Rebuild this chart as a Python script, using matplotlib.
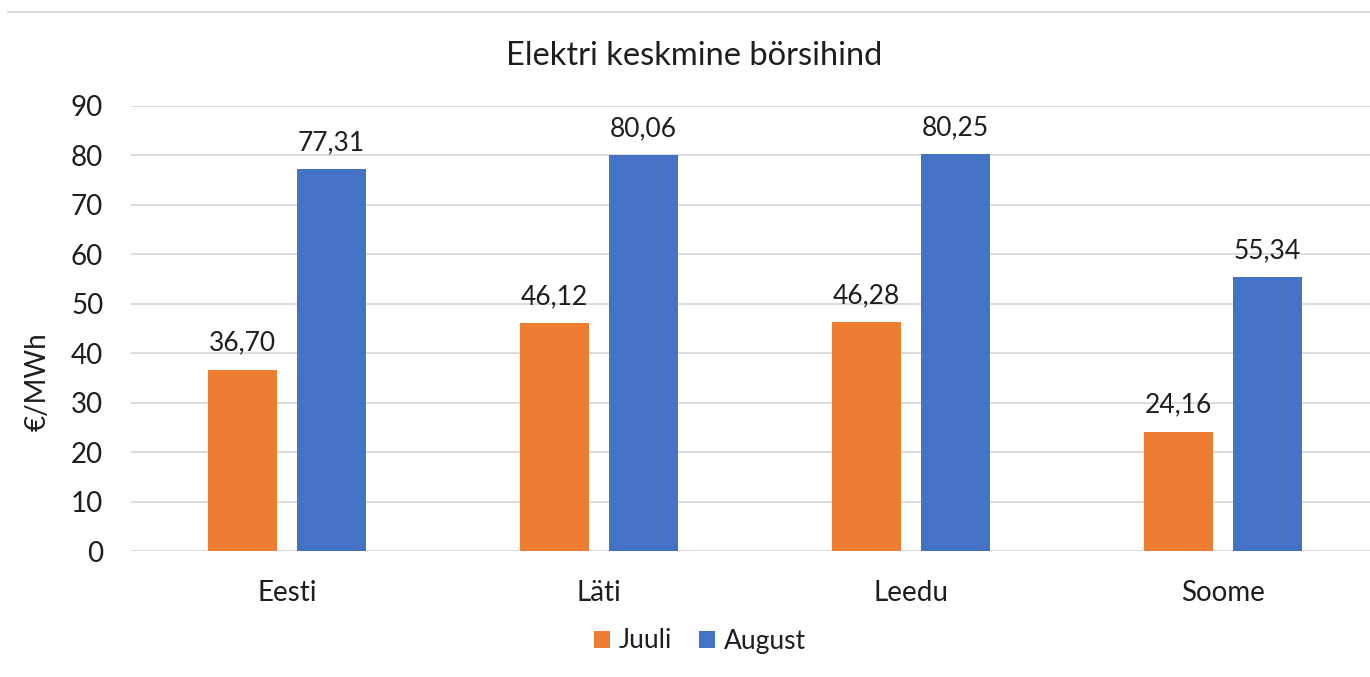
import numpy as np
import matplotlib.pyplot as plt
from matplotlib.lines import Line2D

plt.rcParams['font.family'] = ['Lato', 'DejaVu Sans']

countries = ['Eesti', 'Läti', 'Leedu', 'Soome']
juuli = [36.70, 46.12, 46.28, 24.16]
august = [77.31, 80.06, 80.25, 55.34]
series_names = ['Juuli', 'August']
colors = ['#ED7D31', '#4472C4']
txt = '#1e1e1e'

fig = plt.figure(figsize=(13.7, 6.77), dpi=100)
ax = fig.add_axes([131 / 1370, 1 - 551 / 677, 1248 / 1370, 445 / 677])

x = np.arange(len(countries))
width = 0.224
offset = 0.1425

for vals, name, col, off in zip([juuli, august], series_names, colors, [-offset, offset]):
    bars = ax.bar(x + off, vals, width, color=col, label=name, zorder=3)
    for b, v in zip(bars, vals):
        ax.annotate(f'{v:.2f}'.replace('.', ','),
                    (b.get_x() + b.get_width() / 2, v),
                    xytext=(0, 13.5), textcoords='offset points',
                    ha='center', va='baseline', fontsize=19, color=txt)

ax.set_xlim(-0.5, len(countries) - 0.5)
ax.set_ylim(0, 90)
ax.set_yticks(range(0, 91, 10))
ax.set_xticks(x)
ax.set_xticklabels(countries)
ax.grid(axis='y', color='#d9d9d9', linewidth=1.3, zorder=0)
ax.set_axisbelow(True)
for s in ax.spines.values():
    s.set_visible(False)
ax.tick_params(axis='both', length=0, labelsize=20, colors=txt)
ax.tick_params(axis='y', pad=20)
ax.tick_params(axis='x', pad=21)

ax.set_ylabel('€/MWh', fontsize=20, color=txt)
ax.yaxis.set_label_coords(-80 / 1248, (551 - 382) / 445)

fig.text(694 / 1370, 1 - 56 / 677, 'Elektri keskmine börsihind',
         ha='center', va='center', fontsize=23.5, color=txt)

fig.legend(loc='center', bbox_to_anchor=(700 / 1370, 1 - 641 / 677), ncol=2,
           frameon=False, fontsize=19, handlelength=0.6, handleheight=0.6,
           handletextpad=0.35, columnspacing=1.0, labelcolor=txt)

fig.add_artist(Line2D([8 / 1370, 1], [1 - 12 / 677, 1 - 12 / 677],
                      transform=fig.transFigure, color='#d4d4d4', linewidth=1.2))

fig.savefig('out.png', dpi=100)
